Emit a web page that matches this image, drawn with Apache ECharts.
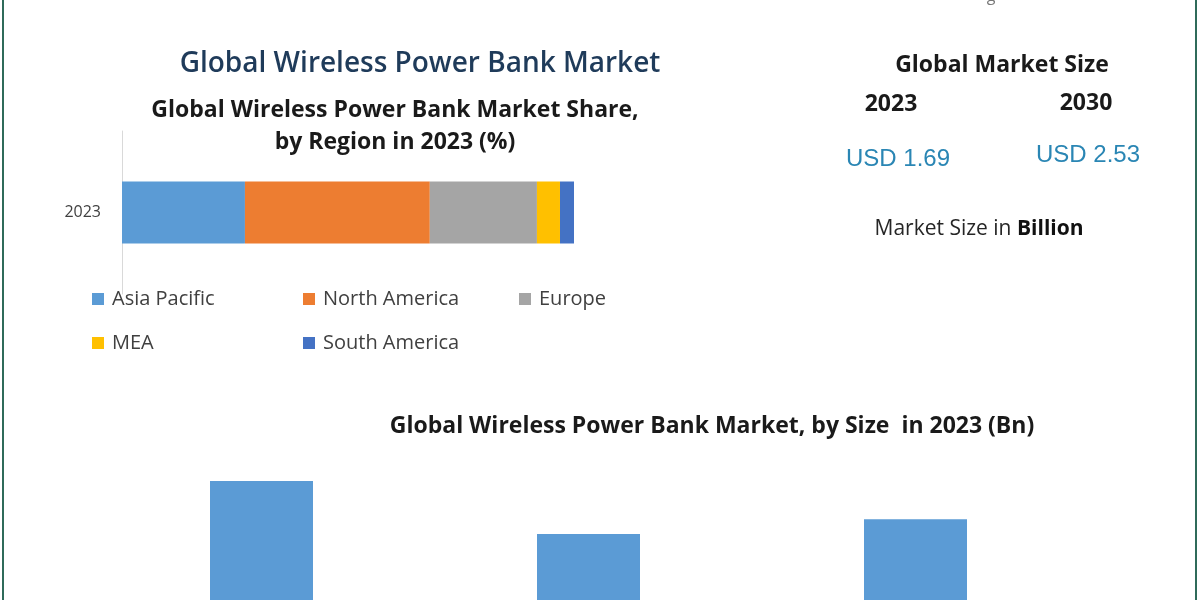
<!DOCTYPE html>
<html>
<head>
<meta charset="utf-8">
<script src="https://cdn.jsdelivr.net/npm/echarts@6/dist/echarts.min.js"></script>
<style>
html,body{margin:0;padding:0;background:#fff;}
#c{width:1200px;height:600px;}
</style>
</head>
<body>
<div id="c"></div>
<script>
// ---- data ----
const regions = ['Asia Pacific', 'North America', 'Europe', 'MEA', 'South America'];
const regionShares = [27.2, 40.9, 23.7, 5.1, 3.1];
const shareYear = ['2023'];
const sizeCategories = ['Below 10,000 mAh', '10,000-20,000 mAh', 'Above 20,000 mAh'];
const sizeValues = [0.68, 0.48, 0.535];
const marketYears = ['2023', '2030'];
const marketValues = ['USD 1.69', 'USD 2.53'];

const regionColors = ['#5b9bd5', '#ed7d31', '#a5a5a5', '#ffc000', '#4472c4'];
const FONT = '"Open Sans", Lato, sans-serif';
const ARIAL = '"Liberation Sans", Arial, sans-serif';

const chart = echarts.init(document.getElementById('c'));

function txt(x, y, text, size, color, weight, family) {
  return {
    type: 'text', x: x, y: y,
    style: {
      text: text, fontSize: size, fill: color, fontWeight: weight || 'normal',
      fontFamily: family || FONT, align: 'center', verticalAlign: 'middle'
    }
  };
}

const shareSeries = regions.map((r, i) => ({
  name: r, type: 'bar', stack: 'share',
  xAxisIndex: 0, yAxisIndex: 0,
  barWidth: 62,
  itemStyle: { color: regionColors[i] },
  data: [regionShares[i]]
}));

const legendBase = {
  orient: 'vertical', icon: 'rect', itemWidth: 12, itemHeight: 12,
  itemGap: 24, selectedMode: false,
  textStyle: { fontSize: 20, color: '#404040', fontFamily: FONT, lineHeight: 20, padding: [0, 0, 0, 3] }
};

chart.setOption({
  backgroundColor: '#ffffff',
  animation: false,
  grid: [
    { left: 122, width: 452, top: 131, height: 163, containLabel: false },
    { left: 98, width: 981, top: 481, bottom: 0, containLabel: false }
  ],
  xAxis: [
    { type: 'value', gridIndex: 0, min: 0, max: 100, show: false, splitLine: { show: false } },
    { type: 'category', gridIndex: 1, data: sizeCategories, show: false }
  ],
  yAxis: [
    {
      type: 'category', gridIndex: 0, data: shareYear,
      axisLine: { show: true, lineStyle: { color: '#d9d9d9', width: 1 } },
      axisTick: { show: false },
      axisLabel: { fontSize: 16, color: '#404040', fontFamily: FONT, margin: 21 }
    },
    // axis zero lies below the visible picture; only the upper part of the axis is shown
    { type: 'value', gridIndex: 1, min: 0.23, max: 0.68, show: false, splitLine: { show: false } }
  ],
  legend: [
    Object.assign({}, legendBase, { left: 87, top: 284, data: [regions[0], regions[3]] }),
    Object.assign({}, legendBase, { left: 298, top: 284, data: [regions[1], regions[4]] }),
    Object.assign({}, legendBase, { left: 514, top: 284, data: [regions[2]] })
  ],
  series: shareSeries.concat([{
    name: 'Market Size', type: 'bar', xAxisIndex: 1, yAxisIndex: 1,
    barWidth: 103, itemStyle: { color: '#5b9bd5' },
    data: sizeValues
  }]),
  graphic: [
    { type: 'line', shape: { x1: 3, y1: 0, x2: 3, y2: 600 }, style: { stroke: '#2f6b5a', lineWidth: 2 } },
    { type: 'line', shape: { x1: 1196, y1: 0, x2: 1196, y2: 600 }, style: { stroke: '#2f6b5a', lineWidth: 2 } },
    txt(991, -4, 'g', 16, '#777777', 'normal'),
    txt(420, 64, 'Global Wireless Power Bank Market', 28, '#1f3b5a', 600),
    txt(395, 110, 'Global Wireless Power Bank Market Share,', 23, '#1a1a1a', 'bold'),
    txt(395, 142, 'by Region in 2023 (%)', 23, '#1a1a1a', 'bold'),
    txt(1002, 65, 'Global Market Size', 23, '#1a1a1a', 'bold'),
    txt(891, 104, marketYears[0], 23, '#1a1a1a', 'bold'),
    txt(1086, 103, marketYears[1], 23, '#1a1a1a', 'bold'),
    txt(898, 159, marketValues[0], 24, '#2a86b4', 'normal', ARIAL),
    txt(1088, 155, marketValues[1], 24, '#2a86b4', 'normal', ARIAL),
    {
      type: 'text', x: 979, y: 229,
      style: {
        text: '{n|Market Size in }{b|Billion}', align: 'center', verticalAlign: 'middle',
        fontFamily: FONT,
        rich: {
          n: { fontSize: 21, fill: '#262626', fontFamily: FONT },
          b: { fontSize: 21, fill: '#111111', fontWeight: 'bold', fontFamily: FONT }
        }
      }
    },
    txt(712, 426, 'Global Wireless Power Bank Market, by Size  in 2023 (Bn)', 23, '#1a1a1a', 'bold')
  ]
});
</script>
</body>
</html>
